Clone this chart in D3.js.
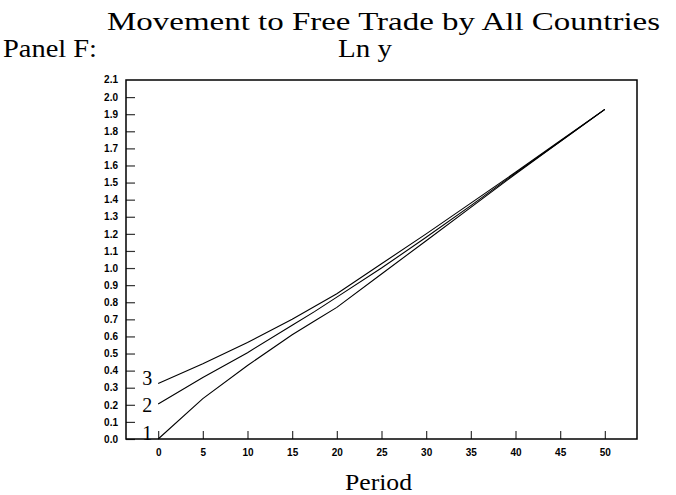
<!DOCTYPE html>
<html>
<head>
<meta charset="utf-8">
<script src="https://cdn.jsdelivr.net/npm/d3@7"></script>
<style>
  body { margin: 0; background: #fff; }
  svg text { fill: #000; }
</style>
</head>
<body>
<div id="chart"></div>
<script>
var width = 676
var height = 495

var periods = [0, 5, 10, 15, 17.5, 20, 25, 30, 35, 40, 45, 50]
var line1 = [0.0, 0.236, 0.43, 0.61, 0.69, 0.77, 0.965, 1.16, 1.355, 1.55, 1.74, 1.928]
var line2 = [0.205, 0.36, 0.505, 0.665, 0.745, 0.83, 1.0, 1.18, 1.365, 1.555, 1.74, 1.928]
var line3 = [0.325, 0.44, 0.565, 0.70, 0.775, 0.85, 1.025, 1.20, 1.38, 1.56, 1.745, 1.928]
var lineNames = ["1", "2", "3"]
var labelAt = [-0.006, 0.158, 0.315]

var yTicks = d3.range(0, 21).map(d => d / 10)
var xTicks = [0, 5, 10, 15, 20, 25, 30, 35, 40, 45, 50]

var margin = {left: 126, right: 676 - 637, top: 80, bottom: 495 - 439}

var x = d3.scaleLinear()
    .domain([-3.6, 53.6])
    .range([margin.left, width - margin.right])

var y = d3.scaleLinear()
    .domain([0, 2.1])
    .range([height - margin.bottom, margin.top])

var svg = d3.select("#chart")
    .append("svg")
    .attr("width", width)
    .attr("height", height)

var serif = "Liberation Serif, Times New Roman, serif"
var sans = "Liberation Sans, Arial, sans-serif"

// titles (stretched a bit, the original face is wider)
svg.append("text")
    .attr("x", 107).attr("y", 30)
    .attr("textLength", 553)
    .attr("lengthAdjust", "spacingAndGlyphs")
    .style("font-family", serif)
    .style("font-size", "25px")
    .text("Movement to Free Trade by All Countries")

svg.append("text")
    .attr("x", 3).attr("y", 57)
    .attr("textLength", 94)
    .attr("lengthAdjust", "spacingAndGlyphs")
    .style("font-family", serif)
    .style("font-size", "25px")
    .text("Panel F:")

svg.append("text")
    .attr("x", 338).attr("y", 57)
    .attr("textLength", 54)
    .attr("lengthAdjust", "spacingAndGlyphs")
    .style("font-family", serif)
    .style("font-size", "25px")
    .text("Ln y")

svg.append("text")
    .attr("x", 345).attr("y", 490)
    .attr("textLength", 67)
    .attr("lengthAdjust", "spacingAndGlyphs")
    .style("font-family", serif)
    .style("font-size", "24px")
    .text("Period")

// y axis ticks point inward
var yAxis = d3.axisLeft(y)
    .tickValues(yTicks)
    .tickSize(-9)
    .tickPadding(8)
    .tickFormat(d3.format(".1f"))

var gy = svg.append("g")
    .attr("transform", "translate(" + margin.left + ",0)")
    .call(yAxis)
gy.select(".domain").remove()
gy.selectAll("line").attr("stroke", "#333").attr("stroke-width", 1.2)
gy.selectAll("text")
    .style("font-family", sans)
    .style("font-weight", "bold")
    .style("font-size", "10px")

svg.append("text")
    .attr("x", margin.left - 8).attr("y", y(2.1) + 3)
    .attr("text-anchor", "end")
    .style("font-family", sans)
    .style("font-weight", "bold")
    .style("font-size", "10px")
    .text("2.1")

var xAxis = d3.axisBottom(x)
    .tickValues(xTicks)
    .tickSize(-8)
    .tickPadding(10)

var gx = svg.append("g")
    .attr("transform", "translate(0," + (height - margin.bottom) + ")")
    .call(xAxis)
gx.select(".domain").remove()
gx.selectAll("line").attr("stroke", "#333").attr("stroke-width", 1.2)
gx.selectAll("text")
    .style("font-family", sans)
    .style("font-weight", "bold")
    .style("font-size", "10px")

// frame
svg.append("rect")
    .attr("x", x.range()[0])
    .attr("y", y.range()[1])
    .attr("width", x.range()[1] - x.range()[0])
    .attr("height", y.range()[0] - y.range()[1])
    .attr("fill", "none")
    .attr("stroke", "#000")
    .attr("stroke-width", 1.5)

var line = d3.line()
    .x((d, i) => x(periods[i]))
    .y(d => y(d))

var series = [line1, line2, line3]

svg.selectAll(".series")
    .data(series)
    .enter()
    .append("path")
    .attr("class", "series")
    .attr("d", line)
    .attr("fill", "none")
    .attr("stroke", "#000")
    .attr("stroke-width", 1.1)

svg.selectAll(".lab")
    .data(series)
    .enter()
    .append("text")
    .attr("class", "lab")
    .attr("x", x(0) - 6)
    .attr("y", (d, i) => y(labelAt[i]))
    .attr("text-anchor", "end")
    .style("font-family", serif)
    .style("font-size", "20px")
    .text((d, i) => lineNames[i])
</script>
</body>
</html>
